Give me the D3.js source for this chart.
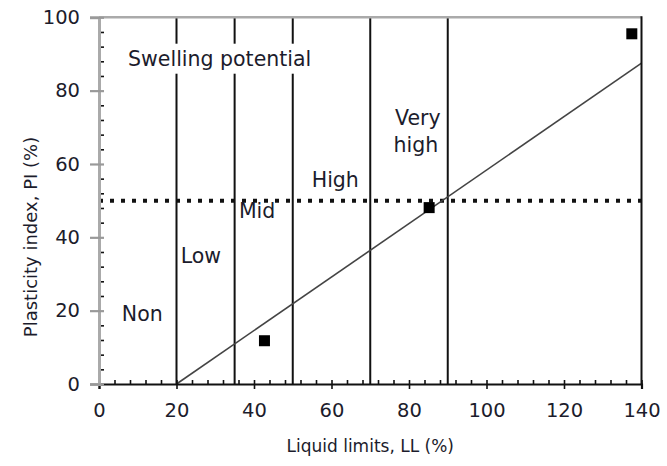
<!DOCTYPE html>
<html>
<head>
<meta charset="utf-8">
<script src="https://cdn.jsdelivr.net/npm/d3@7"></script>
<style>
  body { margin: 0; background: #fff; }
  text { font-family: "DejaVu Sans", Lato, sans-serif; fill: #1c1c2c; }
</style>
</head>
<body>
<div id="chart"></div>
<script>
"use strict";

// Data
var pointsLL = [42.7, 85.2, 137.5];
var pointsPI = [11.8, 48.1, 95.5];

var fitLL = [20, 140];
var fitPI = [0, 87.5];

var boundaries = [20, 35, 50, 70, 90];   // LL class limits
var piLimit = 50;

var labelText = ["Swelling potential", "Non", "Low", "Mid", "High", "Very", "high"];
var labelLL   = [7.5, 5.9, 21.1, 36.1, 54.9, 76.4, 76.0];
var labelPI   = [86.8, 17.3, 33.0, 45.2, 53.8, 70.5, 63.3];

var xTicks = [0, 20, 40, 60, 80, 100, 120, 140];
var yTicks = [0, 20, 40, 60, 80, 100];

var xTitle = "Liquid limits, LL (%)";
var yTitle = "Plasticity index, PI (%)";

// Layout
var W = 667, H = 466;
var plotLeft = 99, plotRight = 641.5, plotTop = 17.3, plotBottom = 384;
var FONT = "'DejaVu Sans', Lato, sans-serif";

var svg = d3.select("#chart").append("svg")
    .attr("width", W)
    .attr("height", H);

var x = d3.scaleLinear().domain([0, 140]).range([plotLeft, plotRight]);
var y = d3.scaleLinear().domain([0, 100]).range([plotBottom, plotTop]);

var minorX = d3.range(0, 141, 4).filter(function(d){ return d % 20 !== 0; });
var minorY = d3.range(0, 101, 4).filter(function(d){ return d % 20 !== 0; });

// vertical class boundaries
svg.append("g")
    .selectAll("line")
    .data(boundaries)
    .enter().append("line")
    .attr("x1", function(d){ return x(d); })
    .attr("x2", function(d){ return x(d); })
    .attr("y1", y(0))
    .attr("y2", y(100))
    .attr("stroke", "#111")
    .attr("stroke-width", 2);

// dotted PI = 50 line
svg.append("line")
    .attr("x1", x(0))
    .attr("x2", x(140))
    .attr("y1", y(piLimit))
    .attr("y2", y(piLimit))
    .attr("stroke", "#111")
    .attr("stroke-width", 4)
    .attr("stroke-dasharray", "4,7");

// fitted line
var line = d3.line()
    .x(function(d){ return x(d[0]); })
    .y(function(d){ return y(d[1]); });

svg.append("path")
    .datum(d3.zip(fitLL, fitPI))
    .attr("d", line)
    .attr("fill", "none")
    .attr("stroke", "#444")
    .attr("stroke-width", 1.6);

// data points
svg.append("g")
    .selectAll("rect")
    .data(d3.zip(pointsLL, pointsPI))
    .enter().append("rect")
    .attr("x", function(d){ return x(d[0]) - 5.5; })
    .attr("y", function(d){ return y(d[1]) - 5.5; })
    .attr("width", 11)
    .attr("height", 11)
    .attr("fill", "#000");

// frame: top and left gray, right and bottom black
svg.append("line")
    .attr("x1", x(0)).attr("x2", x(140))
    .attr("y1", y(100)).attr("y2", y(100))
    .attr("stroke", "#aaa").attr("stroke-width", 2.5);

svg.append("line")
    .attr("x1", x(140)).attr("x2", x(140))
    .attr("y1", y(100) - 1).attr("y2", y(0))
    .attr("stroke", "#111").attr("stroke-width", 2);

// x axis
var xAxisMinor = d3.axisTop(x).tickValues(minorX).tickSize(4).tickFormat("");
svg.append("g")
    .attr("transform", "translate(0," + plotBottom + ")")
    .call(xAxisMinor)
    .call(function(g){
        g.select(".domain").remove();
        g.selectAll(".tick line").attr("stroke", "#111").attr("stroke-width", 1.6);
    });

var xAxis = d3.axisBottom(x).tickValues(xTicks).tickSize(5).tickPadding(14);
svg.append("g")
    .attr("transform", "translate(0," + plotBottom + ")")
    .call(xAxis)
    .call(function(g){
        g.select(".domain").attr("stroke", "#111").attr("stroke-width", 2.2);
        g.selectAll(".tick line").attr("y1", -4).attr("stroke", "#111").attr("stroke-width", 1.6);
        g.selectAll(".tick text")
            .attr("font-family", FONT)
            .attr("font-size", 19.5)
            .attr("fill", "#1c1c2c");
    });

// y axis
var yAxisMinor = d3.axisRight(y).tickValues(minorY).tickSize(4).tickFormat("");
svg.append("g")
    .attr("transform", "translate(" + (plotLeft + 1) + ",0)")
    .call(yAxisMinor)
    .call(function(g){
        g.select(".domain").remove();
        g.selectAll(".tick line").attr("stroke", "#111").attr("stroke-width", 1.6);
    });

var yAxis = d3.axisLeft(y).tickValues(yTicks).tickSize(9).tickPadding(10);
svg.append("g")
    .attr("transform", "translate(" + plotLeft + ",0)")
    .call(yAxis)
    .call(function(g){
        g.select(".domain").attr("stroke", "#aaa").attr("stroke-width", 3);
        g.selectAll(".tick line").attr("x2", -9).attr("x1", 5).attr("stroke", "#999").attr("stroke-width", 2.2);
        g.selectAll(".tick text")
            .attr("font-family", FONT)
            .attr("font-size", 19.5)
            .attr("fill", "#1c1c2c");
    });

// class labels (white box behind, so the boundaries break around the text)
var labels = svg.append("g")
    .selectAll("g")
    .data(labelText)
    .enter().append("g");

labels.append("text")
    .attr("x", function(d, i){ return x(labelLL[i]); })
    .attr("y", function(d, i){ return y(labelPI[i]); })
    .attr("font-size", 20.5)
    .text(function(d){ return d; });

labels.each(function(d, i){
    if (i !== 0) return;
    var g = d3.select(this);
    var bb = g.select("text").node().getBBox();
    g.insert("rect", "text")
        .attr("x", bb.x - 2)
        .attr("y", bb.y - 3)
        .attr("width", bb.width + 4)
        .attr("height", bb.height + 6)
        .attr("fill", "#fff");
});

// axis titles
svg.append("text")
    .attr("x", (plotLeft + plotRight) / 2)
    .attr("y", 452)
    .attr("text-anchor", "middle")
    .attr("font-size", 17)
    .text(xTitle);

svg.append("text")
    .attr("transform", "translate(37," + 237 + ")rotate(-90)")
    .attr("text-anchor", "middle")
    .attr("font-size", 18)
    .text(yTitle);
</script>
</body>
</html>
